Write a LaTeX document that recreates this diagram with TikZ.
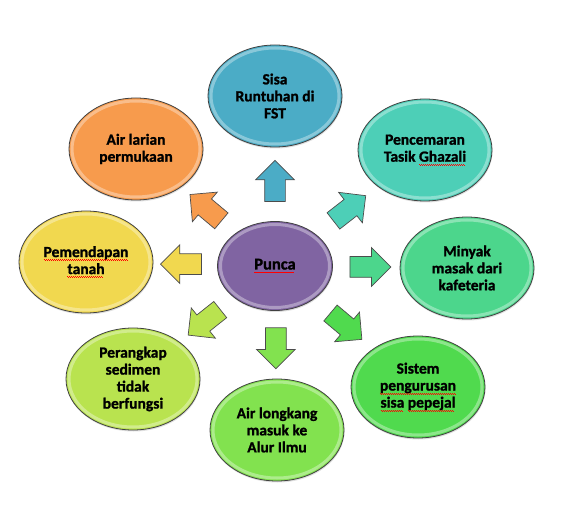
\documentclass[tikz,border=0pt]{standalone}
\usepackage{fontspec}
\setmainfont{Carlito}
\usetikzlibrary{shapes.geometric,shapes.arrows,shadows,calc}
\newcommand\redwave[1]{\setbox0=\hbox{#1}\hbox{\rlap{\copy0}{\color{red}\leaders\hbox{\rule[-3.0pt]{1pt}{0.7pt}\rule[-3.7pt]{1pt}{0.7pt}}\hskip\wd0}}}
\definecolor{cblue}{HTML}{4BACC6}
\definecolor{cteal}{HTML}{4DCFB7}
\definecolor{cmint}{HTML}{4CD68C}
\definecolor{cgreen}{HTML}{50DA4E}
\definecolor{clime}{HTML}{82E24F}
\definecolor{cyell}{HTML}{B9E34F}
\definecolor{cgold}{HTML}{F1D84F}
\definecolor{corange}{HTML}{F79B4D}
\definecolor{cpurple}{HTML}{8064A2}
\tikzset{
  bevel/.style 2 args={path picture={\draw[white,opacity=.35,line width=3pt] (path picture bounding box.center) ellipse [x radius=#1pt, y radius=#2pt];}},
  sat/.style={ellipse, draw=black!75, line width=0.8pt, minimum width=134pt, minimum height=102pt,
    inner sep=0pt, align=center, font=\fontsize{15.5}{17}\selectfont\bfseries\addfontfeature{FakeBold=1.2}, fill=#1,
    drop shadow={opacity=0.25,shadow xshift=0.5pt,shadow yshift=-1.5pt}, bevel={64}{48}},
  hub/.style={ellipse, draw=black!75, line width=0.8pt, minimum width=115pt, minimum height=89pt,
    inner sep=0pt, align=center, font=\fontsize{16.5}{18}\selectfont\bfseries\addfontfeature{FakeBold=1.2}, fill=cpurple,
    drop shadow={opacity=0.25,shadow xshift=0.5pt,shadow yshift=-1.5pt}, bevel={54.5}{41.5}},
  barrow/.style={single arrow, draw=black!70, line width=0.7pt, fill=#1, minimum height=41pt,
    inner xsep=0pt, inner ysep=10pt, single arrow head extend=9pt, single arrow head indent=0pt,
    single arrow tip angle=90}
}
\begin{document}
\begin{tikzpicture}[x=1pt,y=-1pt]
\useasboundingbox (0,0) rectangle (587,513);
\node[sat=cblue] (fst) at (275,96) {Sisa\\Runtuhan di\\FST};
\node[sat=cteal] (tasik) at (425,150) {Pencemaran\\Tasik \redwave{Ghazali}};
\node[sat=cmint] (minyak) at (467,268) {Minyak\\masak dari\\kafeteria};
\node[sat=cgreen] (sistem) at (418,387) {Sistem\\\redwave{pengurusan}\\\redwave{sisa} \redwave{pepejal}};
\node[sat=clime] (longkang) at (277,430) {Air longkang\\masuk ke\\Alur Ilmu};
\node[sat=cyell] (perangkap) at (133,379) {Perangkap\\sedimen\\tidak\\berfungsi};
\node[sat=cgold] (tanah) at (86,262) {\redwave{Pemendapan}\\\redwave{tanah}};
\node[sat=corange] (larian) at (136,149) {Air larian\\permukaan};
\node[hub] (punca) at (275,266) {\redwave{Punca}};
\foreach \s/\a/\c in {fst/90/cblue, tasik/38/cteal, minyak/0/cmint, sistem/-40/cgreen,
    longkang/-90/clime, perangkap/-141.5/cyell, tanah/180/cgold, larian/140/corange}
  \node[barrow=\c, rotate=\a] (a-\s) at ($(punca)!0.47!(\s)$) {};
\end{tikzpicture}
\end{document}
